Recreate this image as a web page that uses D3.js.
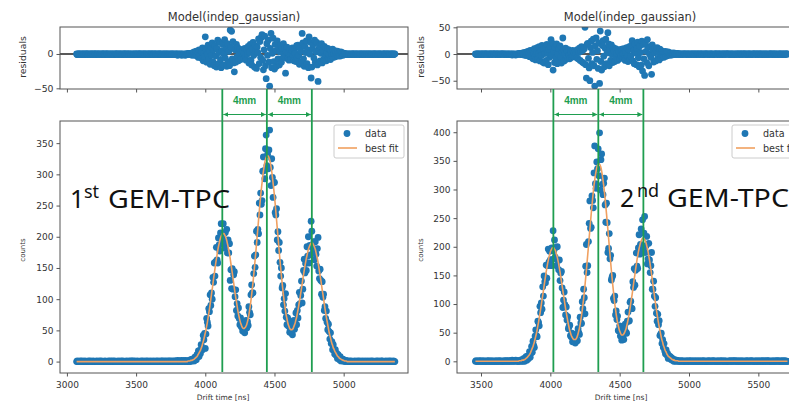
<!DOCTYPE html>
<html><head><meta charset="utf-8">
<script src="https://cdn.jsdelivr.net/npm/d3@7"></script>
<style>body{margin:0;background:#fff}svg{display:block}</style>
</head><body>
<svg id="c" width="789" height="403"></svg>
<script>
// ---------- DATA ----------
const driftStep = 5;        // ns per bin
const driftStartL = 3070;   // first drift-time bin, 1st GEM-TPC
const driftStartR = 3460;   // first drift-time bin, 2nd GEM-TPC

// best-fit model values (counts), 1st GEM-TPC  (3070 .. 5370 ns)
const fitL = [
0,0,0,0,0,0,0,0,0,0, 0,0,0,0,0,0,0,0,0,0, 0,0,0,0,0,0,0,0,0,0, 0,0,0,0,0,0,0,0,0,0,
0,0,0,0,0,0,0,0,0,0, 0,0,0,0,0,0,0,0,0,0, 0,0,0,0,0,0,0,0,0,0, 0,0,0,0,0,0,0,0,0,0,
0,0,0,0,0,0,0,0,0,0, 0,0,0,0,0,0,0,0,0,0, 0,0,0,0,0,0,0,0,0,0, 0,0,0,0,0,0,0,0,0,0,
0,0,0,0,0,0,0,0,0,0, 0,0,0,0,0,0,0,0,0,0, 0,0,0,0,0,0,0,0,0,0, 0,0,0,0,0,0,0,0,0,0,
0,1,1,1,1,2,2,2,3,3,4,5,6,7,8,10,12,14,16,18,
21,24,28,32,36,41,46,51,57,63,70,77,84,92,100,108,116,124,133,141,
149,157,164,171,178,184,189,194,198,201,203,205,205,205,203,201,198,194,189,184,
178,172,165,157,150,142,134,126,118,110,103,96,89,82,76,71,66,62,59,56,
54,53,53,54,55,57,60,64,69,75,82,89,98,107,117,127,139,150,163,175,
188,201,214,227,240,253,265,276,286,296,305,312,319,324,327,329,330,329,327,324,
319,312,305,296,286,276,265,253,240,227,214,201,188,175,162,150,138,127,116,106,
97,89,81,74,69,63,59,56,53,52,51,51,52,53,56,59,62,67,71,77,
83,89,96,102,110,117,124,132,139,146,153,159,165,170,175,180,183,186,188,190,
190,190,188,186,183,180,175,170,165,159,152,145,138,131,123,115,108,100,93,85,
78,71,65,59,53,47,42,38,33,29,26,22,20,17,15,13,11,9,8,7,
5,5,4,3,3,2,2,1,1,1,1,
0,0,0,0,0,0,0,0,0,0, 0,0,0,0,0,0,0,0,0,0, 0,0,0,0,0,0,0,0,0,0, 0,0,0,0,0,0,0,0,0,0,
0,0,0,0,0,0,0,0,0,0, 0,0,0,0,0,0,0,0,0,0, 0,0,0,0,0,0,0,0,0,0
];
// residuals (model - data), 1st GEM-TPC
const resL = [
0,-1,0,0,0,-1,0,0,-1,0, 0,0,-1,0,0,0,0,-1,0,0, -1,0,0,0,-1,0,0,0,0,-1, 0,0,0,-1,0,0,-1,0,0,0,
0,-1,0,0,0,0,-1,0,0,-1, 0,0,-1,0,0,-1,0,0,0,0, -1,0,0,0,-1,0,0,-1,0,0, 0,0,-1,0,0,0,-1,0,0,-1,
0,-1,0,0,-1,0,0,0,-1,0, 0,0,0,-1,0,0,-1,0,0,0, -1,0,0,-1,0,0,0,-1,0,0, 0,-1,0,0,0,-1,0,0,-1,0,
0,0,-1,0,-1,0,0,-1,0,0, -1,0,0,-1,0,-1,0,0,-1,0, 0,-1,0,-1,0,0,-2,0,-1,0, -1,0,-2,0,-1,-1,0,-2,0,-1,
0,1,-1,0,1,-1,1,-2,2,-1,3,-2,0,4,-3,2,-5,6,-2,5,
-6,3,9,-10,1,-4,25,7,-12,0,13,-8,4,-15,10,-2,16,-11,6,-17,
12,-3,-19,8,20,-14,2,17,-8,-20,5,14,-16,0,21,-6,9,-18,15,-11,
4,-17,35,10,33,-7,18,-13,-26,6,-12,14,-4,9,-10,2,7,-8,3,-6,
5,-7,1,8,-4,-9,6,0,11,-13,3,14,-9,-16,7,17,-2,-19,12,4,
-21,10,2,22,-14,18,-5,24,28,-9,-23,6,26,-17,-36,15,-2,20,-12,-47,
8,30,-20,1,23,-11,-22,14,5,-18,19,-7,10,-16,3,13,-12,9,-6,15,
-4,8,-28,3,10,-7,2,-9,6,0,-8,5,9,-3,-10,7,1,-11,12,-5,
13,-2,-15,9,4,-12,30,16,-7,-18,11,2,19,-14,6,-20,25,0,17,-35,
-19,8,14,-6,20,-12,3,17,-16,-40,7,12,-10,1,15,-13,5,-8,11,-3,
9,-10,2,8,-7,-1,6,-8,4,-3,7,-5,1,5,-4,3,-2,4,-3,1,
2,-3,3,-1,2,-2,1,0,1,-1,0,
-1,0,0,-1,0,0,-1,0,0,0, 0,-1,0,0,0,-1,0,0,-1,0, 0,0,-1,0,0,0,-1,0,0,0, -1,0,0,0,-1,0,0,-1,0,0,
0,0,-1,0,0,-1,0,0,0,-1, 0,-1,0,0,0,0,-1,0,0,0, -1,0,0,-1,0,0,0,-1,0,0
];

// best-fit model values (counts), 2nd GEM-TPC  (3460 .. 5710 ns)
const fitR = [
0,0,0,0,0,0,0,0,0,0, 0,0,0,0,0,0,0,0,0,0, 0,0,0,0,0,0,0,0,0,0, 0,0,0,0,0,0,0,0,0,0,
0,0,0,0,0,0,0,0,0,0, 0,0,0,0,0,0,0,0,0,0, 0,0,
0,1,1,1,1,2,2,2,3,3,4,5,6,7,9,10,12,14,17,20,
23,26,30,34,39,44,49,55,62,68,76,83,91,99,107,115,123,132,140,148,
156,163,170,176,182,186,191,194,196,198,198,198,196,194,191,186,182,176,170,163,
156,148,140,132,124,116,108,100,92,85,78,71,65,59,54,50,46,43,41,39,
38,38,38,39,41,44,48,53,58,65,72,80,89,99,109,121,133,146,159,173,
187,201,215,230,244,258,271,284,296,307,316,325,332,338,342,344,345,344,342,338,
332,325,316,307,296,284,271,258,244,230,216,201,187,173,159,146,134,122,111,100,
91,82,74,67,62,57,53,50,47,46,46,46,48,50,53,56,61,66,72,78,
85,93,101,109,117,126,135,144,152,161,169,177,184,191,197,202,207,210,213,215,
215,215,213,210,207,202,197,191,184,177,169,161,152,143,134,125,116,107,98,90,
82,74,67,60,54,48,42,37,33,28,25,21,18,16,13,11,9,8,7,6,
5,4,3,3,2,2,1,1,1,1,1,
0,0,0,0,0,0,0,0,0,0, 0,0,0,0,0,0,0,0,0,0, 0,0,0,0,0,0,0,0,0,0, 0,0,0,0,0,0,0,0,0,0,
0,0,0,0,0,0,0,0,0,0, 0,0,0,0,0,0,0,0,0,0, 0,0,0,0,0,0,0,0,0,0, 0,0,0,0,0,0,0,0,0,0,
0,0,0,0,0,0,0,0,0,0, 0,0,0,0,0,0,0,0,0,0, 0,0,0,0,0,0,0,0,0,0, 0,0,0,0,0,0,0,0,0,0,
0,0,0,0,0,0,0,0,0,0, 0,0,0,0,0,0,0,0,0,0, 0,0,0,0,0,0,0,0,0,0, 0,0,0,0,0,0,0,0
];
// residuals (model - data), 2nd GEM-TPC
const resR = [
0,-1,0,0,0,-1,0,0,-1,0, 0,0,-1,0,0,0,0,-1,0,0, -1,0,0,0,-1,0,0,0,0,-1, 0,0,0,-1,0,0,-1,0,0,0,
0,-1,0,0,-1,0,-1,0,0,-1, 0,-1,0,-2,0,-1,0,-1,-2,0, -1,0,
0,1,0,-1,1,-1,2,0,-2,3,1,-3,4,-2,5,0,-5,7,3,-6,
7,-9,2,10,-5,-11,4,12,-8,0,14,-13,6,-3,16,-15,9,-17,1,11,
-12,18,3,-20,9,-6,14,27,-2,20,-30,5,-16,12,-8,19,-18,0,10,-14,
15,-6,-17,4,30,9,-13,1,11,-10,6,-7,8,-2,-9,5,3,-6,7,-4,
2,-5,6,0,-7,8,-9,3,11,-12,5,14,-15,7,-17,10,50,-20,-45,18,
20,-8,-26,-50,12,24,-18,3,28,-22,-60,15,30,-10,6,-27,21,-55,43,-14,
-30,16,25,-4,-24,11,28,-18,2,40,19,-22,8,-12,17,-1,-16,12,5,-14,
10,-6,1,-12,8,4,-9,6,-3,9,-7,0,10,-8,-12,5,12,-4,-14,8,
14,-10,-4,16,25,-13,6,-18,19,2,-20,11,22,-7,-24,15,3,-21,24,-32,
18,-9,-40,20,5,-16,27,12,-22,0,14,-6,-38,17,8,-15,2,11,-13,6,
12,-8,3,-11,9,1,-7,6,-5,4,-6,3,5,-4,2,-3,4,-2,1,-2,
2,-2,1,-1,2,-1,0,1,-1,0,1,
-1,0,0,-1,0,0,-1,0,0,0, 0,-1,0,0,0,-1,0,0,-1,0, 0,0,-1,0,0,0,-1,0,0,0, -1,0,0,0,-1,0,0,-1,0,0,
0,0,-1,0,0,-1,0,0,0,-1, 0,-1,0,0,0,0,-1,0,0,0, -1,0,0,-1,0,0,0,-1,0,0, 0,0,0,-1,0,0,-1,0,0,-1,
0,-1,0,0,-1,0,0,0,-1,0, 0,0,-1,0,0,0,0,-1,0,0, -1,0,0,0,-1,0,-1,0,0,0, 0,-1,0,0,0,-1,0,0,0,-1,
0,0,-1,0,0,-1,0,0,-1,0, -1,0,0,0,0,-1,0,0,0,-1, 0,0,-1,0,-1,0,0,0,-1,0, 0,-1,0,0,-1,0,0,0
];

// peak positions marked by green lines (ns)
const peaksL = [4123, 4445, 4770];
const peaksR = [4022, 4346, 4671];
const spacingLabel = "4mm";

const xTicksL = [3000, 3500, 4000, 4500, 5000];
const xTicksR = [3500, 4000, 4500, 5000, 5500];
const countTicksL = [0, 50, 100, 150, 200, 250, 300, 350];
const countTicksR = [0, 50, 100, 150, 200, 250, 300, 350, 400];
const resTicksL = [-50, 0];
const resTicksR = [-50, 0, 50];

const plotTitle = "Model(indep_gaussian)";
const xLabel = "Drift time [ns]";
const legendLabels = ["data", "best fit"];

// ---------- DRAW ----------
const svg = d3.select('#c');
const FONT = "DejaVu Sans, sans-serif";
const SPINE = "#555", TXT = "#333", BLUE = "#1f77b4", ORANGE = "#f0a060", GREEN = "#1f9e50";
const defs = svg.append('defs');
defs.append('marker').attr('id', 'ah').attr('viewBox', '0 0 10 10').attr('refX', 10).attr('refY', 5)
  .attr('markerWidth', 5).attr('markerHeight', 5).attr('orient', 'auto-start-reverse')
  .attr('markerUnits', 'userSpaceOnUse')
  .append('path').attr('d', 'M0,0 L10,5 L0,10 z').attr('fill', GREEN);

function styleAxis(sel, fs) {
  sel.selectAll('path.domain').remove();
  sel.selectAll('line').attr('stroke', SPINE).attr('stroke-width', 1);
  sel.selectAll('text').attr('fill', TXT).style('font-family', FONT).style('font-size', fs + 'px');
}

function drawPanel(p) {
  const g = svg.append('g');
  const x = d3.scaleLinear().domain(p.xDom).range([p.left, p.right]);
  const yr = d3.scaleLinear().domain(p.rDom).range([89, 27]);
  const yc = d3.scaleLinear().domain(p.cDom).range([373, 121]);
  const n = Math.min(p.fit.length, p.res.length);
  const idx = d3.range(n);
  const xs = idx.map(i => p.start + i * driftStep);
  const counts = idx.map(i => p.fit[i] - p.res[i]);

  defs.append('clipPath').attr('id', 'cr' + p.id).append('rect')
    .attr('x', p.left).attr('y', 27).attr('width', p.right - p.left).attr('height', 62);
  defs.append('clipPath').attr('id', 'cc' + p.id).append('rect')
    .attr('x', p.left).attr('y', 121).attr('width', p.right - p.left).attr('height', 252);

  // ---- residuals axes ----
  const gr = g.append('g').attr('clip-path', `url(#cr${p.id})`);
  gr.append('line').attr('x1', p.left).attr('x2', p.right).attr('y1', yr(0)).attr('y2', yr(0))
    .attr('stroke', '#222').attr('stroke-width', 1.5);
  gr.selectAll('circle').data(idx).join('circle')
    .attr('cx', i => x(xs[i])).attr('cy', i => yr(p.res[i])).attr('r', 3.4).attr('fill', BLUE);
  g.append('rect').attr('x', p.left).attr('y', 27).attr('width', p.right - p.left).attr('height', 62)
    .attr('fill', 'none').attr('stroke', SPINE).attr('stroke-width', 1);
  g.append('g').attr('transform', 'translate(0,89)')
    .call(d3.axisBottom(x).tickValues(p.xTicks).tickSize(3.5).tickSizeOuter(0).tickFormat(''))
    .call(s => styleAxis(s, 9));
  g.append('g').attr('transform', `translate(${p.left},0)`)
    .call(d3.axisLeft(yr).tickValues(p.rTicks).tickSize(3.5).tickSizeOuter(0).tickPadding(3))
    .call(s => styleAxis(s, 9.3));
  g.append('text').attr('x', p.titleX).attr('y', 21).attr('text-anchor', 'middle')
    .attr('fill', TXT).style('font-family', FONT).style('font-size', '11.5px').text(plotTitle);
  g.append('text').attr('transform', `translate(${p.ylabX},57) rotate(-90)`).attr('text-anchor', 'middle')
    .attr('dy', '0.35em').attr('fill', TXT).style('font-family', FONT).style('font-size', '9.3px').text('residuals');

  // ---- counts axes ----
  const gc = g.append('g').attr('clip-path', `url(#cc${p.id})`);
  gc.selectAll('circle').data(idx).join('circle')
    .attr('cx', i => x(xs[i])).attr('cy', i => yc(counts[i])).attr('r', 3.4).attr('fill', BLUE);
  gc.append('path').datum(idx)
    .attr('d', d3.line().x(i => x(xs[i])).y(i => yc(p.fit[i])).curve(d3.curveMonotoneX))
    .attr('fill', 'none').attr('stroke', ORANGE).attr('stroke-width', 1.6);
  g.append('rect').attr('x', p.left).attr('y', 121).attr('width', p.right - p.left).attr('height', 252)
    .attr('fill', 'none').attr('stroke', SPINE).attr('stroke-width', 1);
  g.append('g').attr('transform', 'translate(0,373)')
    .call(d3.axisBottom(x).tickValues(p.xTicks).tickSize(3.5).tickSizeOuter(0).tickPadding(5).tickFormat(d3.format('d')))
    .call(s => styleAxis(s, 9));
  g.append('g').attr('transform', `translate(${p.left},0)`)
    .call(d3.axisLeft(yc).tickValues(p.cTicks).tickSize(3.5).tickSizeOuter(0).tickPadding(3))
    .call(s => styleAxis(s, 9));
  g.append('text').attr('x', p.xlabX).attr('y', 400).attr('text-anchor', 'middle')
    .attr('fill', TXT).style('font-family', FONT).style('font-size', '7.5px').text(xLabel);
  g.append('text').attr('transform', `translate(${p.ylabX},250) rotate(-90)`).attr('text-anchor', 'middle')
    .attr('dy', '0.35em').attr('fill', TXT).style('font-family', FONT).style('font-size', '7px').text('counts');

  // legend
  const lg = g.append('g');
  lg.append('rect').attr('x', p.legX).attr('y', 125).attr('width', 70).attr('height', 33).attr('rx', 2)
    .attr('fill', '#fff').attr('fill-opacity', 0.8).attr('stroke', '#ccc');
  lg.append('circle').attr('cx', p.legX + 13).attr('cy', 133.5).attr('r', 3.4).attr('fill', BLUE);
  lg.append('line').attr('x1', p.legX + 4).attr('x2', p.legX + 23).attr('y1', 148).attr('y2', 148)
    .attr('stroke', ORANGE).attr('stroke-width', 1.6);
  legendLabels.forEach((t, i) => lg.append('text').attr('x', p.legX + 31).attr('y', 137 + i * 14.5)
    .attr('fill', TXT).style('font-family', FONT).style('font-size', '9.6px').text(t));

  // green peak markers
  p.peaks.forEach(v => g.append('line').attr('x1', x(v)).attr('x2', x(v)).attr('y1', 89).attr('y2', 372)
    .attr('stroke', GREEN).attr('stroke-width', 1.8));
  for (let i = 0; i < p.peaks.length - 1; i++) {
    const a = x(p.peaks[i]) + 1, b = x(p.peaks[i + 1]) - 1;
    g.append('line').attr('x1', a).attr('x2', b).attr('y1', 114.5).attr('y2', 114.5)
      .attr('stroke', GREEN).attr('stroke-width', 1.2)
      .attr('marker-start', 'url(#ah)').attr('marker-end', 'url(#ah)');
    g.append('text').attr('x', (a + b) / 2).attr('y', 104).attr('text-anchor', 'middle')
      .attr('fill', GREEN).style('font-family', 'Liberation Sans, Arial, sans-serif')
      .style('font-weight', 'bold').style('font-size', '10px').text(spacingLabel);
  }

  // big detector label
  const bl = g.append('g').attr('fill', '#111').style('font-family', 'Noto Sans, Open Sans, sans-serif');
  bl.append('text').attr('x', p.big[0]).attr('y', p.big[3]).style('font-size', '25px').text(p.bigNum);
  bl.append('text').attr('x', p.big[1]).attr('y', p.big[3] - 10).style('font-size', '18px').text(p.bigSup);
  bl.append('text').attr('x', p.big[2]).attr('y', p.big[3]).style('font-size', '25px')
    .attr('textLength', 122).attr('lengthAdjust', 'spacingAndGlyphs').text('GEM-TPC');
}

drawPanel({
  id: 'L', start: driftStartL, fit: fitL, res: resL, peaks: peaksL,
  left: 60, right: 408, xDom: [2950, 5465], rDom: [-51, 39.3], cDom: [-18.3, 385.5],
  xTicks: xTicksL, rTicks: resTicksL, cTicks: countTicksL,
  titleX: 234, ylabX: 23, xlabX: 223, legX: 334,
  big: [70, 84, 108, 208], bigNum: '1', bigSup: 'st'
});
drawPanel({
  id: 'R', start: driftStartR, fit: fitR, res: resR, peaks: peaksR,
  left: 457, right: 803, xDom: [3327, 5822], rDom: [-65.5, 50.6], cDom: [-20.4, 419.6],
  xTicks: xTicksR, rTicks: resTicksR, cTicks: countTicksR,
  titleX: 630, ylabX: 421, xlabX: 621, legX: 732,
  big: [620, 637, 667, 207], bigNum: '2', bigSup: 'nd'
});
</script>
</body></html>
